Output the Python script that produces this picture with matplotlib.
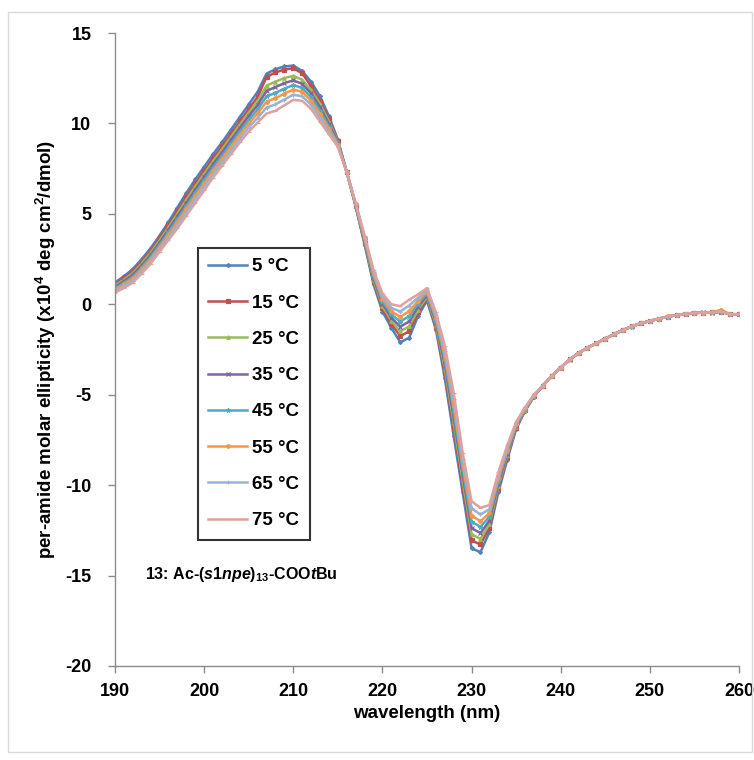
import matplotlib
matplotlib.use("Agg")
import matplotlib.pyplot as plt
from matplotlib.patches import Rectangle

plt.rcParams['font.family'] = ['Liberation Sans', 'DejaVu Sans']
plt.rcParams['mathtext.fontset'] = 'custom'
plt.rcParams['mathtext.rm'] = 'Liberation Sans:bold'
plt.rcParams['mathtext.bf'] = 'Liberation Sans:bold'
plt.rcParams['mathtext.it'] = 'Liberation Sans:italic:bold'
plt.rcParams['axes.unicode_minus'] = False

wavelength = list(range(190, 261))

c05 = [1.20, 1.55, 1.95, 2.50, 3.10, 3.80, 4.55, 5.35, 6.15, 6.90,
       7.60, 8.30, 8.95, 9.65, 10.35, 11.05, 11.75, 12.75, 13.00, 13.15,
       13.20, 12.90, 12.30, 11.50, 10.40, 9.10, 7.30, 5.40, 3.30, 1.10,
       -0.40, -1.30, -2.10, -1.85, -0.65, 0.20, -1.40, -4.10, -7.30, -10.40,
       -13.50, -13.70, -12.60, -10.40, -8.60, -6.90, -5.90, -5.10, -4.50, -3.95,
       -3.50, -3.05, -2.70, -2.40, -2.15, -1.90, -1.65, -1.42, -1.22, -1.05,
       -0.92, -0.80, -0.68, -0.60, -0.52, -0.48, -0.46, -0.45, -0.40, -0.55,
       -0.55]
c15 = [1.11, 1.44, 1.82, 2.36, 2.96, 3.65, 4.38, 5.15, 5.94, 6.68,
       7.38, 8.08, 8.73, 9.42, 10.11, 10.80, 11.46, 12.57, 12.82, 12.98,
       13.05, 12.77, 12.05, 11.26, 10.23, 9.03, 7.30, 5.43, 3.39, 1.24,
       -0.23, -1.08, -1.76, -1.49, -0.45, 0.32, -1.24, -3.79, -6.89, -10.03,
       -13.06, -13.28, -12.35, -10.21, -8.46, -6.83, -5.87, -5.08, -4.50, -3.96,
       -3.50, -3.05, -2.70, -2.41, -2.15, -1.90, -1.66, -1.42, -1.22, -1.05,
       -0.92, -0.80, -0.69, -0.60, -0.52, -0.48, -0.46, -0.44, -0.42, -0.56,
       -0.56]
c25 = [1.04, 1.36, 1.73, 2.26, 2.85, 3.53, 4.25, 5.01, 5.78, 6.51,
       7.21, 7.91, 8.56, 9.25, 9.93, 10.60, 11.24, 12.09, 12.31, 12.51,
       12.63, 12.41, 11.85, 11.08, 10.10, 8.98, 7.30, 5.46, 3.45, 1.34,
       -0.10, -0.91, -1.50, -1.22, -0.29, 0.41, -1.12, -3.56, -6.58, -9.74,
       -12.72, -12.97, -12.15, -10.07, -8.36, -6.78, -5.84, -5.07, -4.49, -3.95,
       -3.49, -3.05, -2.69, -2.40, -2.15, -1.89, -1.65, -1.43, -1.21, -1.05,
       -0.91, -0.80, -0.68, -0.61, -0.52, -0.47, -0.46, -0.45, -0.41, -0.54,
       -0.55]
c35 = [0.96, 1.27, 1.63, 2.16, 2.73, 3.41, 4.12, 4.86, 5.61, 6.34,
       7.04, 7.74, 8.39, 9.07, 9.75, 10.41, 11.02, 11.80, 12.01, 12.23,
       12.38, 12.19, 11.66, 10.90, 9.97, 8.93, 7.30, 5.49, 3.52, 1.44,
       0.03, -0.74, -1.24, -0.95, -0.13, 0.50, -0.99, -3.33, -6.27, -9.45,
       -12.38, -12.65, -11.96, -9.93, -8.26, -6.73, -5.81, -5.06, -4.50, -3.95,
       -3.50, -3.06, -2.70, -2.40, -2.16, -1.90, -1.65, -1.42, -1.22, -1.06,
       -0.92, -0.81, -0.68, -0.60, -0.53, -0.48, -0.45, -0.46, -0.40, -0.55,
       -0.56]
c45 = [0.89, 1.18, 1.52, 2.04, 2.62, 3.29, 3.98, 4.69, 5.44, 6.16,
       6.86, 7.56, 8.21, 8.88, 9.55, 10.20, 10.78, 11.50, 11.69, 11.92,
       12.12, 11.96, 11.45, 10.70, 9.83, 8.87, 7.30, 5.51, 3.59, 1.56,
       0.17, -0.56, -0.96, -0.65, 0.03, 0.60, -0.86, -3.07, -5.93, -9.15,
       -12.02, -12.30, -11.75, -9.77, -8.14, -6.67, -5.79, -5.04, -4.49, -3.94,
       -3.50, -3.05, -2.70, -2.39, -2.15, -1.90, -1.64, -1.42, -1.23, -1.05,
       -0.92, -0.80, -0.68, -0.60, -0.52, -0.49, -0.46, -0.45, -0.39, -0.56,
       -0.54]
c55 = [0.82, 1.10, 1.43, 1.94, 2.51, 3.17, 3.85, 4.55, 5.28, 5.99,
       6.69, 7.39, 8.04, 8.71, 9.37, 10.00, 10.56, 11.21, 11.39, 11.65,
       11.87, 11.75, 11.25, 10.52, 9.70, 8.82, 7.30, 5.54, 3.65, 1.66,
       0.30, -0.39, -0.70, -0.38, 0.19, 0.69, -0.74, -2.84, -5.62, -8.86,
       -11.68, -11.99, -11.55, -9.63, -8.04, -6.62, -5.76, -5.03, -4.50, -3.95,
       -3.51, -3.05, -2.71, -2.40, -2.15, -1.91, -1.65, -1.42, -1.22, -1.04,
       -0.92, -0.80, -0.67, -0.60, -0.52, -0.48, -0.46, -0.44, -0.30, -0.55,
       -0.55]
c65 = [0.73, 1.00, 1.31, 1.82, 2.38, 3.04, 3.70, 4.37, 5.09, 5.80,
       6.50, 7.20, 7.85, 8.50, 9.16, 9.78, 10.31, 10.88, 11.05, 11.32,
       11.59, 11.50, 11.03, 10.31, 9.55, 8.76, 7.30, 5.57, 3.73, 1.78,
       0.45, -0.20, -0.40, -0.07, 0.37, 0.80, -0.59, -2.57, -5.26, -8.53,
       -11.29, -11.62, -11.33, -9.47, -7.92, -6.56, -5.73, -5.02, -4.50, -3.95,
       -3.50, -3.05, -2.70, -2.40, -2.14, -1.90, -1.65, -1.42, -1.22, -1.05,
       -0.93, -0.80, -0.68, -0.60, -0.52, -0.48, -0.46, -0.45, -0.40, -0.55,
       -0.56]
c75 = [0.65, 0.90, 1.20, 1.70, 2.25, 2.90, 3.55, 4.20, 4.90, 5.60,
       6.30, 7.00, 7.65, 8.30, 8.95, 9.55, 10.05, 10.55, 10.70, 11.00,
       11.30, 11.25, 10.80, 10.10, 9.40, 8.70, 7.30, 5.60, 3.80, 1.90,
       0.60, 0.00, -0.10, 0.25, 0.55, 0.90, -0.45, -2.30, -4.90, -8.20,
       -10.90, -11.25, -11.10, -9.30, -7.80, -6.50, -5.70, -5.00, -4.50, -3.95,
       -3.50, -3.05, -2.70, -2.40, -2.15, -1.90, -1.65, -1.42, -1.22, -1.05,
       -0.92, -0.80, -0.68, -0.60, -0.52, -0.48, -0.46, -0.45, -0.40, -0.55,
       -0.55]

series = [c05, c15, c25, c35, c45, c55, c65, c75]
labels = ['5 \u00b0C', '15 \u00b0C', '25 \u00b0C', '35 \u00b0C',
          '45 \u00b0C', '55 \u00b0C', '65 \u00b0C', '75 \u00b0C']
colors = ['#4F81BD', '#C0504D', '#9BBB59', '#8064A2',
          '#4BACC6', '#F79646', '#95B3D7', '#E0A09E']
markers = ['D', 's', '^', 'x', '*', 'o', '+', '_']
msizes = [2.0, 2.8, 2.5, 3.0, 3.2, 2.5, 3.2, 3.2]

W, H = 754, 760
fig = plt.figure(figsize=(W / 100, H / 100), dpi=100)
fig.patches.append(Rectangle((8 / W, 1 - 752 / H), (752 - 8) / W, (752 - 12) / H,
                             transform=fig.transFigure, fill=False,
                             edgecolor='#D9D9D9', linewidth=1.0))

ax = fig.add_axes([115 / W, 1 - 666 / H, (739 - 115) / W, (666 - 33) / H])

for y, lab, col, mk, ms in zip(series, labels, colors, markers, msizes):
    ax.plot(wavelength, y, color=col, linewidth=1.8, marker=mk, markersize=ms,
            markeredgewidth=0.9, markeredgecolor=col, label=lab,
            solid_joinstyle='round')

ax.set_xlim(190, 260)
ax.set_ylim(-20, 15)
ax.set_xticks(range(190, 261, 10))
ax.set_yticks(range(-20, 16, 5))

for side in ['top', 'right']:
    ax.spines[side].set_visible(False)
for side in ['left', 'bottom']:
    ax.spines[side].set_color('#8C8C8C')
    ax.spines[side].set_linewidth(1.0)

ax.tick_params(axis='both', direction='out', length=5, width=1.0, color='#8C8C8C',
               labelsize=13)
ax.tick_params(axis='y', pad=12)
ax.tick_params(axis='x', pad=7)
for t in ax.get_xticklabels() + ax.get_yticklabels():
    t.set_fontweight('bold')

ax.set_xlabel('wavelength (nm)', fontsize=13.5, fontweight='bold', labelpad=4)
ax.set_ylabel(r'per-amide molar ellipticity (x10$^{4}$ deg cm$^{2}$/dmol)',
              fontsize=13.5, fontweight='bold', labelpad=5)

leg = ax.legend(loc='upper left', bbox_to_anchor=((198 - 115) / 624, (666 - 248) / 633),
                borderaxespad=0, frameon=True, fancybox=False,
                labelspacing=1.02, handlelength=2.05, handletextpad=0.3,
                borderpad=0.55, prop={'weight': 'bold', 'size': 13.5})
leg.get_frame().set_edgecolor('black')
leg.get_frame().set_linewidth(1.5)

ax.text((145 - 115) / 624, (666 - 575) / 633,
        r'13: Ac-($\mathit{s1npe}$)$_{\mathrm{13}}$-COO$\mathit{t}$Bu',
        transform=ax.transAxes, fontsize=11.5, fontweight='bold', va='center', ha='left')

fig.savefig('out.png', dpi=100)
